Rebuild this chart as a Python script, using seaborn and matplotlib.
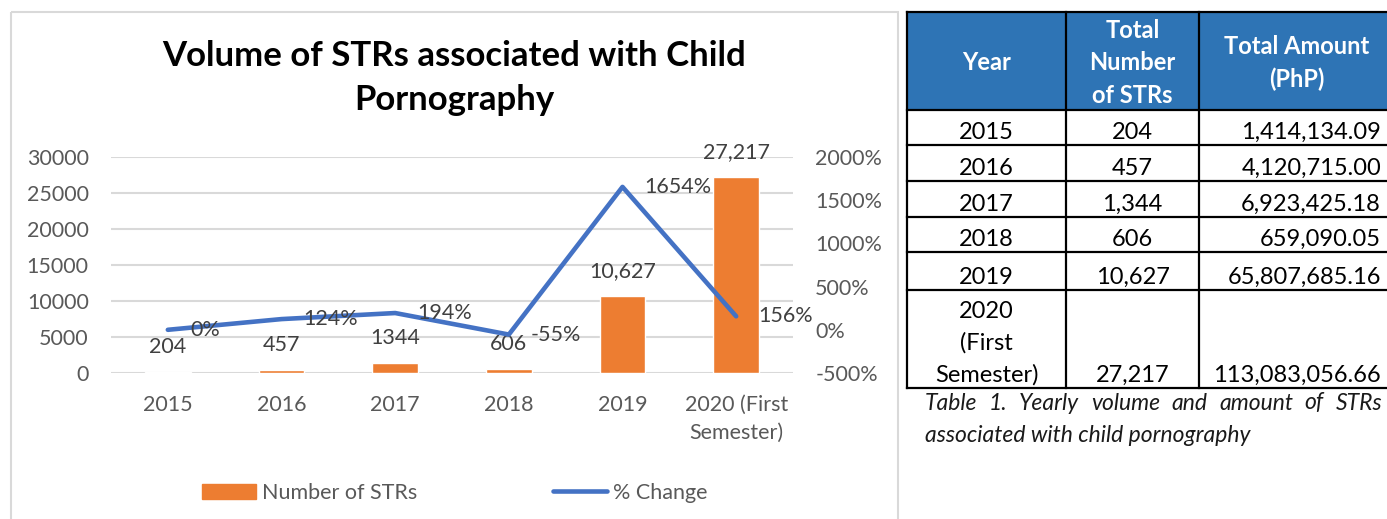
import numpy as np
import pandas as pd
import matplotlib.pyplot as plt
import seaborn as sns
from matplotlib.patches import Patch, Rectangle
from matplotlib.lines import Line2D
from matplotlib.ticker import FuncFormatter, MultipleLocator

# === Chart data ===
years = ["2015", "2016", "2017", "2018", "2019", "2020 (First\nSemester)"]
str_counts = [204, 457, 1344, 606, 10627, 27217]
bar_labels = ["204", "457", "1344", "606", "10,627", "27,217"]
pct_change = [0, 124, 194, -55, 1654, 156]

# === Table data ===
table_header = ["Year", "Total\nNumber\nof STRs", "Total Amount\n(PhP)"]
table_years = ["2015", "2016", "2017", "2018", "2019", "2020\n(First\nSemester)"]
table_counts = ["204", "457", "1,344", "606", "10,627", "27,217"]
table_amounts = ["1,414,134.09", "4,120,715.00", "6,923,425.18", "659,090.05",
                 "65,807,685.16", "113,083,056.66"]
caption = ["Table 1. Yearly volume and amount of STRs",
           "associated with child pornography"]

ORANGE = "#ED7D31"
BLUE = "#4472C4"
GRID = "#D9D9D9"
TICK = "#595959"
LABEL = "#404040"
HEAD = "#2E74B5"
FS = 15.5
TFS = 17

sns.set_theme(style="white")
plt.rcParams["font.family"] = ["Lato", "DejaVu Sans"]

W, H = 1387, 519
fig = plt.figure(figsize=(W / 100, H / 100), dpi=100)

# pixel-coordinate overlay for chart frame and table
ov = fig.add_axes([0, 0, 1, 1], zorder=-1)
ov.set_xlim(0, W)
ov.set_ylim(H, 0)
ov.axis("off")
ov.add_patch(Rectangle((11, 12), 887, 530, fill=False, ec=GRID, lw=1.5))

# === Combo chart ===
ax = fig.add_axes([111 / W, 1 - 373 / H, 682 / W, 216 / H])
df = pd.DataFrame({"year": years, "count": str_counts, "pct": pct_change})
sns.barplot(data=df, x="year", y="count", color=ORANGE, saturation=1,
            width=0.4, ax=ax)
ax.set_xlim(-0.5, len(years) - 0.5)
ax.set_ylim(0, 30000)
ax.yaxis.set_major_locator(MultipleLocator(5000))
ax.grid(axis="y", color=GRID, lw=1.5)
ax.set_axisbelow(True)
ax.set_xlabel("")
ax.set_ylabel("")
sns.despine(ax=ax, left=True, bottom=True)
ax.tick_params(axis="y", length=0, pad=16, labelsize=FS, labelcolor=TICK)
ax.tick_params(axis="x", length=0, pad=16, labelsize=FS, labelcolor=TICK)
for lab in ax.get_xticklabels():
    lab.set_linespacing(1.5)

for i, (v, lab) in enumerate(zip(str_counts, bar_labels)):
    ax.annotate(lab, (i, v), xytext=(0, 18), textcoords="offset points",
                ha="center", va="center", fontsize=FS, color=LABEL)

ax2 = ax.twinx()
sns.lineplot(x=np.arange(len(years)), y=pct_change, color=BLUE, lw=3.3,
             ax=ax2, solid_capstyle="round")
ax2.set_ylim(-500, 2000)
ax2.yaxis.set_major_locator(MultipleLocator(500))
ax2.yaxis.set_major_formatter(FuncFormatter(lambda v, p: f"{v:.0f}%"))
ax2.grid(False)
ax2.set_ylabel("")
for s in ax2.spines.values():
    s.set_visible(False)
ax2.tick_params(axis="y", length=0, pad=16, labelsize=FS, labelcolor=TICK)
for i, v in enumerate(pct_change):
    ax2.annotate(f"{v}%", (i, v), xytext=(16, 0), textcoords="offset points",
                 ha="left", va="center", fontsize=FS, color=LABEL)

fig.text(454 / W, 1 - 78 / H, "Volume of STRs associated with Child\nPornography",
         ha="center", va="center", fontsize=25, fontweight="bold",
         color="black", linespacing=1.45)

handles = [Patch(color=ORANGE, label="Number of STRs"),
           Line2D([], [], color=BLUE, lw=3.3, solid_capstyle="round", label="% Change")]
fig.legend(handles=handles, loc="center", bbox_to_anchor=(455 / W, 1 - 493 / H),
           ncol=2, frameon=False, fontsize=FS, handlelength=2.5, handletextpad=0.3,
           columnspacing=6.3, labelcolor=TICK)

# === Table ===
x_edges = [907, 1066, 1199, 1395]
y_edges = [12, 110, 145, 181, 217, 252, 290, 388]
ov.add_patch(Rectangle((x_edges[0], y_edges[0]), x_edges[-1] - x_edges[0],
                       y_edges[1] - y_edges[0], fc=HEAD, ec="none"))
for y in y_edges:
    ov.plot([x_edges[0], x_edges[-1]], [y, y], color="black", lw=1.6,
            solid_capstyle="projecting")
for x in x_edges[:-1]:
    ov.plot([x, x], [y_edges[0], y_edges[-1]], color="black", lw=1.6,
            solid_capstyle="projecting")

head_y = (y_edges[0] + y_edges[1]) / 2 + 2
for j, txt in enumerate(table_header):
    cx = (x_edges[j] + x_edges[j + 1]) / 2
    ov.text(cx, head_y, txt, ha="center", va="center", fontsize=TFS,
            fontweight="bold", color="white", linespacing=1.5)

for r in range(len(table_years)):
    yb = y_edges[r + 2] - 2
    ov.text((x_edges[0] + x_edges[1]) / 2, yb, table_years[r], ha="center",
            va="bottom", fontsize=TFS, color="black", linespacing=1.6)
    ov.text((x_edges[1] + x_edges[2]) / 2, yb, table_counts[r], ha="center",
            va="bottom", fontsize=TFS, color="black")
    ov.text(1381, yb, table_amounts[r], ha="right", va="bottom",
            fontsize=TFS, color="black")

# caption: first line justified, second left aligned
renderer = fig.canvas.get_renderer()
words = caption[0].split()
objs = [ov.text(0, 403, w, ha="left", va="center", fontsize=16.5,
                style="italic", color="#1a1a1a") for w in words]
widths = [o.get_window_extent(renderer).width for o in objs]
gap = (1382 - 925 - sum(widths)) / (len(words) - 1)
x = 925
for o, w in zip(objs, widths):
    o.set_x(x)
    x += w + gap
ov.text(925, 435, caption[1], ha="left", va="center", fontsize=16.5,
        style="italic", color="#1a1a1a")

fig.savefig("out.png", dpi=100)
